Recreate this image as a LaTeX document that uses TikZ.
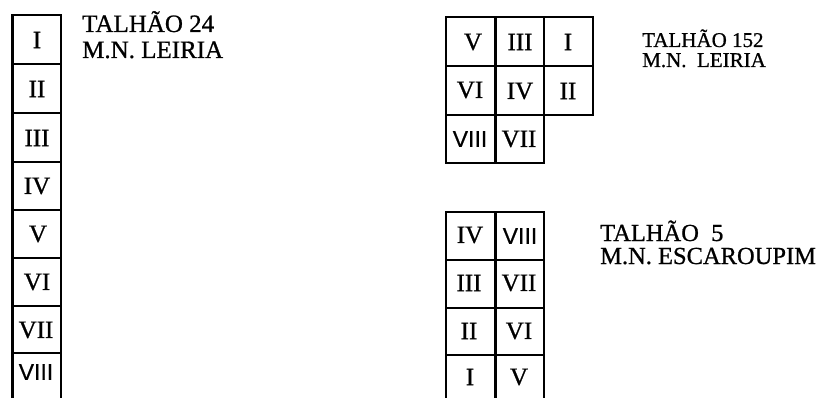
\documentclass[tikz,border=0pt]{standalone}
\usepackage{fontspec}
\setmainfont{Liberation Serif}[FakeBold=0.8]
\newfontfamily\numsans{Liberation Sans}[FakeBold=0.6]
\begin{document}
\begin{tikzpicture}[x=1pt,y=-1pt,
  grid/.style={line width=2.8pt,line cap=rect,line join=miter},
  num/.style={inner sep=0pt,anchor=center,font=\fontsize{25}{25}\selectfont},
  nums/.style={inner sep=0pt,anchor=center,font=\fontsize{23}{23}\numsans},
  lab/.style={inner sep=0pt,anchor=base west,font=\fontsize{25}{25}\selectfont},
  labm/.style={inner sep=0pt,anchor=base west,font=\fontsize{24.5}{25}\selectfont},
  labs/.style={inner sep=0pt,anchor=base west,font=\fontsize{21}{22}\selectfont}]
\useasboundingbox (0,0) rectangle (821,398);
% left column (Talhao 24)
\draw[grid] (12.5,398) -- (12.5,15) -- (61,15) -- (61,398);
\foreach \y in {64,113,162,210,258,306,353} \draw[grid] (12.5,\y) -- (61,\y);
\node[num] (a1) at (37,40) {I};
\node[num] (a2) at (37,89) {II};
\node[num] (a3) at (37,138) {III};
\node[num] (a4) at (37,186) {IV};
\node[num] (a5) at (38,234) {V};
\node[num] (a6) at (37,282) {VI};
\node[num] (a7) at (36,330) {VII};
\node[nums] (a8) at (36,372) {VIII};
\node[lab] (t1a) at (82,32) {TALHÃO 24};
\node[lab] (t1b) at (82,58) {M.N.\ LEIRIA};
% top right grid (Talhao 152)
\draw[grid] (446,17) rectangle (593,115);
\draw[grid] (446,115) rectangle (544,163);
\draw[grid] (495.5,17) -- (495.5,163);
\draw[grid] (544,17) -- (544,115);
\draw[grid] (446,66) -- (593,66);
\node[num] (b5) at (473,42) {V};
\node[num] (b3) at (520,42) {III};
\node[num] (b1) at (568,42) {I};
\node[num] (b6) at (470,90) {VI};
\node[num] (b4) at (520,91) {IV};
\node[num] (b2) at (568,91) {II};
\node[nums] (b8) at (470,139) {VIII};
\node[num] (b7) at (519,139) {VII};
\node[labs] (t2a) at (642,47) {TALHÃO 152};
\node[labs] (t2b) at (642,67) {M.N.\ \ LEIRIA};
% bottom right grid (Talhao 5)
\draw[grid] (446,398) -- (446,212) -- (544,212) -- (544,398);
\draw[grid] (495.5,212) -- (495.5,398);
\foreach \y in {260,308,355} \draw[grid] (446,\y) -- (544,\y);
\node[num] (c4) at (470,235) {IV};
\node[nums] (c8) at (520,236) {VIII};
\node[num] (c3) at (469,283) {III};
\node[num] (c7) at (519,283) {VII};
\node[num] (c2) at (469,331) {II};
\node[num] (c6) at (519,331) {VI};
\node[num] (c1) at (470,377) {I};
\node[num] (c5) at (519,377) {V};
\node[labm] (t3a) at (600,241) {TALHÃO\ \ 5};
\node[labm] (t3b) at (600,264) {M.N.\ ESCAROUPIM};
\end{tikzpicture}
\end{document}
